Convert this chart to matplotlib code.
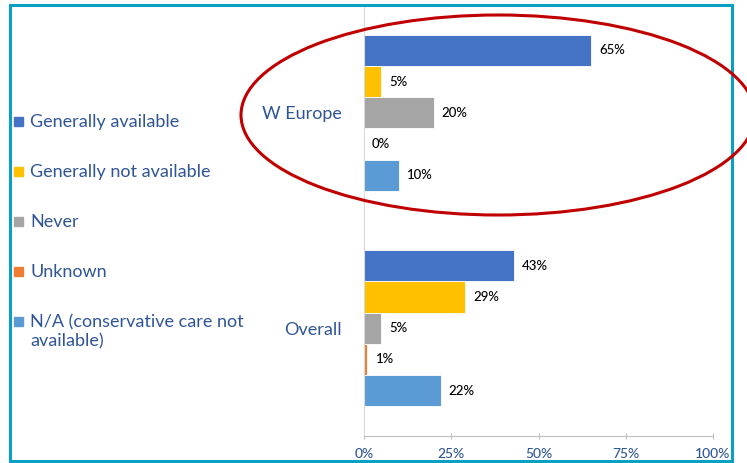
import matplotlib.pyplot as plt
from matplotlib.patches import Rectangle, Ellipse

# dados
regioes = ['Overall', 'W Europe']
series = ['Generally available', 'Generally not available', 'Never', 'Unknown',
          'N/A (conservative care not\navailable)']
valores_overall = [43, 29, 5, 1, 22]
valores_weurope = [65, 5, 20, 0, 10]
cores = ['#4472c4', '#ffc000', '#a5a5a5', '#ed7d31', '#5b9bd5']
xticks = [0, 25, 50, 75, 100]
xtick_labels = ['0%', '25%', '50%', '75%', '100%']

azul_texto = '#2f5597'
plt.rcParams['font.family'] = ['Lato', 'DejaVu Sans']

fig = plt.figure(figsize=(7.47, 4.63), dpi=100)
W, H = 747, 463

# moldura
fig.patches.append(Rectangle((10 / W, 1 - 461 / H), 722 / W, 456 / H,
                             transform=fig.transFigure, fill=False,
                             edgecolor='#0aa0c4', linewidth=2.2))

ax = fig.add_axes([364 / W, 1 - 436 / H, (713 - 364) / W, (436 - 5) / H])

h = 0.145
for i, nome in enumerate(series):
    vals = [valores_overall[i], valores_weurope[i]]
    ys = [k + (2 - i) * h for k in range(len(regioes))]
    ax.barh(ys, vals, height=h, color=cores[i], edgecolor='white', linewidth=0.6)
    for y, v in zip(ys, vals):
        ax.text(v + 2.3, y, f'{v}%', va='center', ha='left', fontsize=9.5,
                color='black', fontweight='medium')

ax.set_xlim(0, 100)
ax.set_ylim(-0.5, 1.5)
ax.set_yticks(range(len(regioes)))
ax.set_yticklabels(regioes, color=azul_texto, fontsize=13)
ax.tick_params(axis='y', length=0, pad=16)
ax.set_xticks(xticks)
ax.set_xticklabels(xtick_labels, color=azul_texto, fontsize=10, fontweight='medium')
ax.tick_params(axis='x', direction='inout', length=5, color='#bfbfbf', pad=6)
for s in ['top', 'right']:
    ax.spines[s].set_visible(False)
ax.spines['left'].set_color('#d9d9d9')
ax.spines['bottom'].set_color('#bfbfbf')

# legenda manual
y0 = 121
for i, nome in enumerate(series):
    yy = 1 - (y0 + 50 * i) / H
    fig.patches.append(Rectangle((14 / W, yy - 5 / H), 9 / W, 9 / H,
                                 transform=fig.transFigure, color=cores[i]))
    fig.text(30 / W, yy + 7 / H, nome, color=azul_texto, fontsize=13,
             va='top', ha='left', linespacing=1.25)

# elipse vermelha
fig.patches.append(Ellipse((498 / W, 1 - 115 / H), 514 / W, 200 / H,
                           transform=fig.transFigure, fill=False,
                           edgecolor='#c00000', linewidth=2.2))

fig.savefig('out.png', dpi=100)
